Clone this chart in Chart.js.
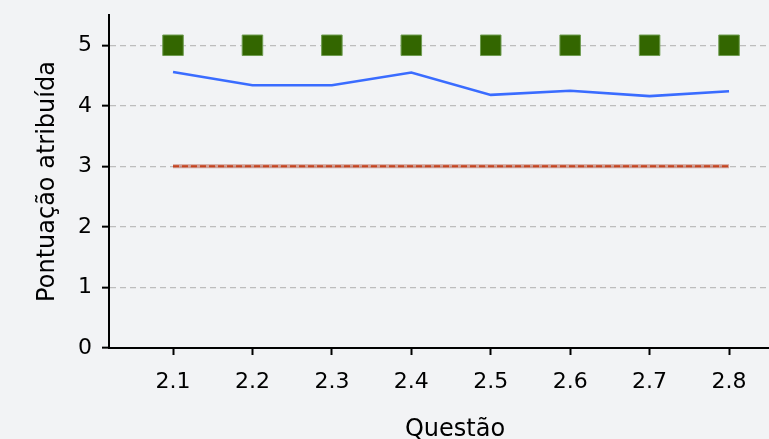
<!DOCTYPE html>
<html>
<head>
<meta charset="utf-8">
<script src="https://cdn.jsdelivr.net/npm/chart.js@4/dist/chart.umd.min.js"></script>
<style>
  html, body { margin: 0; padding: 0; background: #f2f3f5; overflow: hidden; }
  #moldura { width: 769px; height: 439px; overflow: hidden; }
  canvas { display: block; }
</style>
</head>
<body>
<!-- the axes run past the right edge in the original, so the canvas is wider and cut off -->
<div id="moldura"><canvas id="grafico" width="801" height="439"></canvas></div>
<script>
var questoes = ['2.1', '2.2', '2.3', '2.4', '2.5', '2.6', '2.7', '2.8'];
var pontuacaoMaxima = [5, 5, 5, 5, 5, 5, 5, 5];
var pontuacaoMedia = [4.56, 4.34, 4.34, 4.55, 4.18, 4.25, 4.16, 4.24];
var pontuacaoReferencia = [3, 3, 3, 3, 3, 3, 3, 3];
var yTicks = [0, 1, 2, 3, 4, 5];

var pontos = function (valores) {
    return questoes.map(function (q, i) { return { x: parseFloat(q), y: valores[i] }; });
};

// no extra padding from the scales, the layout padding decides everything
var semPadding = function (s) {
    s.paddingTop = 0;
    s.paddingBottom = 0;
    s.paddingLeft = 0;
    s.paddingRight = 0;
};

var fundo = {
    id: 'fundo',
    beforeDraw: function (chart) {
        var ctx = chart.ctx;
        ctx.save();
        ctx.fillStyle = '#f2f3f5';
        ctx.fillRect(0, 0, chart.width, chart.height);
        ctx.restore();
    }
};

Chart.defaults.font.family = '"DejaVu Sans", sans-serif';
Chart.defaults.color = '#000';

new Chart(document.getElementById('grafico').getContext('2d'), {
    type: 'line',
    data: {
        datasets: [
            {
                label: 'Máximo',
                data: pontos(pontuacaoMaxima),
                showLine: false,
                pointStyle: 'rect',
                pointRadius: 14.5,
                pointBackgroundColor: '#336600',
                pointBorderColor: '#6f9c50',
                pointBorderWidth: 1
            },
            {
                label: 'Média',
                data: pontos(pontuacaoMedia),
                borderColor: '#3a6cff',
                borderWidth: 2.6,
                pointRadius: 0,
                tension: 0
            },
            {
                label: 'Referência',
                data: pontos(pontuacaoReferencia),
                borderColor: '#c5431e',
                borderWidth: 2,
                borderDash: [6, 3],
                pointRadius: 0
            },
            {
                label: 'Referência (fundo)',
                data: pontos(pontuacaoReferencia),
                borderColor: 'rgba(195, 125, 112, 0.7)',
                borderWidth: 4,
                pointRadius: 0
            }
        ]
    },
    options: {
        responsive: false,
        animation: false,
        devicePixelRatio: 1,
        layout: { autoPadding: false, padding: { top: 15, right: 0, left: 0, bottom: 0 } },
        plugins: {
            legend: { display: false },
            tooltip: { enabled: false }
        },
        scales: {
            x: {
                type: 'linear',
                min: 2.0194,
                max: 2.8906,
                afterBuildTicks: function (s) {
                    s.ticks = questoes.map(function (q) { return { value: parseFloat(q) }; });
                },
                afterFit: function (s) { s.height = 91; semPadding(s); },
                ticks: {
                    font: { size: 22 },
                    padding: 14,
                    maxRotation: 0,
                    callback: function (v) { return v.toFixed(1); }
                },
                grid: {
                    drawOnChartArea: false,
                    tickLength: 7,
                    tickWidth: 2,
                    tickColor: '#000'
                },
                border: { color: '#000', width: 2 },
                title: {
                    display: true,
                    text: 'Questão',
                    font: { size: 24 },
                    padding: { top: 0, bottom: -5 }
                }
            },
            y: {
                min: 0,
                max: 5.5,
                afterBuildTicks: function (s) {
                    s.ticks = yTicks.map(function (v) { return { value: v }; });
                },
                afterFit: function (s) { s.width = 109; semPadding(s); },
                ticks: {
                    font: { size: 22 },
                    padding: 10
                },
                grid: {
                    color: '#bdbdbd',
                    lineWidth: 1.3,
                    tickLength: 7,
                    tickWidth: 2,
                    tickColor: '#000'
                },
                border: { color: '#000', width: 2, dash: [6, 4] },
                title: {
                    display: true,
                    text: 'Pontuação atribuída',
                    font: { size: 24 },
                    padding: { top: 33, bottom: 0 }
                }
            }
        }
    },
    plugins: [fundo]
});
</script>
</body>
</html>
